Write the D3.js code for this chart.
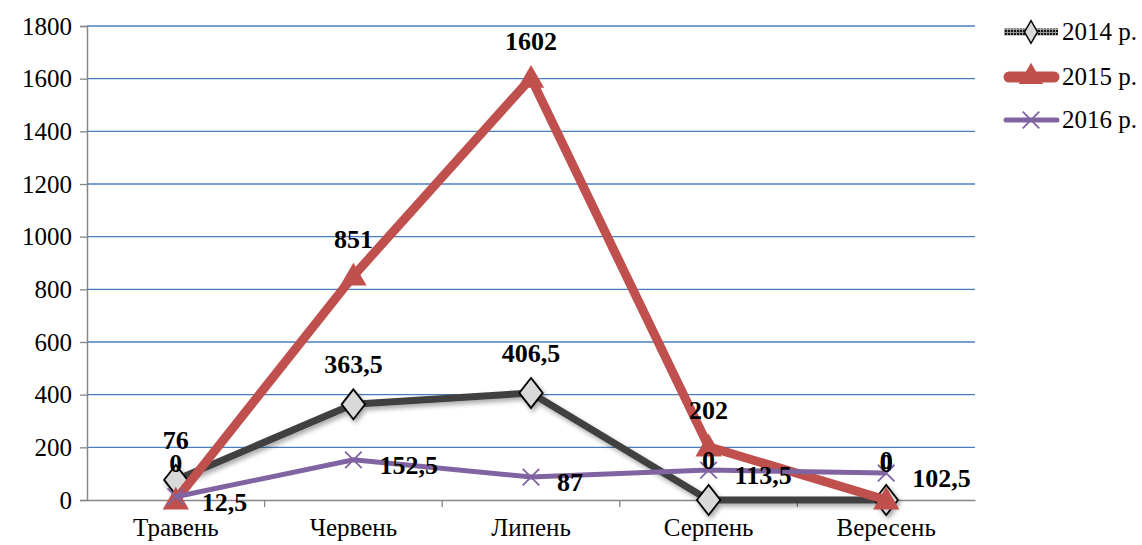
<!DOCTYPE html>
<html><head><meta charset="utf-8">
<script src="https://cdn.jsdelivr.net/npm/d3@7"></script>
<style>html,body{margin:0;padding:0;background:#fff;}svg{display:block;} svg text{font-family:"Liberation Serif","Times New Roman",serif;}</style>
</head><body>
<svg id="c" width="1142" height="545"></svg>
<script>
const categories = ["Травень","Червень","Липень","Серпень","Вересень"];
const series2014 = [76, 363.5, 406.5, 0, 0];
const series2015 = [0, 851, 1602, 202, 0];
const series2016 = [12.5, 152.5, 87, 113.5, 102.5];
const seriesNames = ["2014 р.","2015 р.","2016 р."];
const yTicks = [0,200,400,600,800,1000,1200,1400,1600,1800];
const fmt = v => String(v).replace(".", ",");

const svg = d3.select("#c");
const x = d3.scaleBand().domain(categories).range([87, 975]);
const y = d3.scaleLinear().domain([0, 1800]).range([500, 26]);
const cx = c => x(c) + x.bandwidth()/2;

const defs = svg.append("defs");
const f = defs.append("filter").attr("id","sh").attr("x","-20%").attr("y","-20%").attr("width","140%").attr("height","140%");
f.append("feGaussianBlur").attr("in","SourceAlpha").attr("stdDeviation",2.5);
f.append("feOffset").attr("dx",2).attr("dy",3).attr("result","b");
const ct = f.append("feComponentTransfer"); ct.append("feFuncA").attr("type","linear").attr("slope",0.35);
const fm = f.append("feMerge"); fm.append("feMergeNode"); fm.append("feMergeNode").attr("in","SourceGraphic");
const pat = defs.append("pattern").attr("id","hatch").attr("width",3).attr("height",3).attr("patternUnits","userSpaceOnUse");
pat.append("rect").attr("width",3).attr("height",3).attr("fill","#9a9a9a");
pat.append("rect").attr("width",2).attr("height",2).attr("fill","#111");

// gridlines
svg.append("g").selectAll("line").data(yTicks.filter(t=>t>0)).join("line")
  .attr("x1",87).attr("x2",975).attr("y1",d=>y(d)).attr("y2",d=>y(d))
  .attr("stroke","#4a7ebb").attr("stroke-width",1.3);

// y axis
const ya = svg.append("g").attr("transform","translate(87,0)")
  .call(d3.axisLeft(y).tickValues(yTicks).tickFormat(d=>String(d)).tickSize(7).tickPadding(8));
ya.attr("font-family",null);
ya.select(".domain").attr("stroke","#868686").attr("stroke-width",1.5);
ya.selectAll(".tick line").attr("stroke","#868686").attr("stroke-width",1.3);
ya.selectAll("text").attr("font-size",25).attr("fill","#000");

// x axis
const xa = svg.append("g").attr("transform","translate(0,500)").call(d3.axisBottom(x).tickSize(0).tickPadding(18));
xa.attr("font-family",null);
xa.select(".domain").attr("stroke","#868686").attr("stroke-width",1.5);
xa.selectAll("text").attr("font-size",25).attr("fill","#000");
svg.append("g").selectAll("line").data(categories.slice(1)).join("line")
  .attr("x1",d=>x(d)).attr("x2",d=>x(d)).attr("y1",500).attr("y2",507)
  .attr("stroke","#868686").attr("stroke-width",1.3);

const line = d3.line().x((d,i)=>cx(categories[i])).y(d=>y(d));

// 2014
const g14 = svg.append("g").attr("filter","url(#sh)");
g14.append("path").datum(series2014).attr("d",line).attr("fill","none").attr("stroke","#3f3f3f").attr("stroke-width",7).attr("stroke-linejoin","round");
const diamond = d3.symbol().type(d3.symbolDiamond).size(260);
g14.selectAll("path.m").data(series2014).join("path").attr("class","m")
  .attr("d",diamond).attr("transform",(d,i)=>`translate(${cx(categories[i])},${y(d)}) scale(1.35,1)`)
  .attr("fill","#d9d9d9").attr("stroke","#000").attr("stroke-width",1.5);

// 2015
const g15 = svg.append("g");
g15.append("path").datum(series2015).attr("d",line).attr("fill","none").attr("stroke","#c0504d").attr("stroke-width",9).attr("stroke-linejoin","miter");
const tri = d3.symbol().type(d3.symbolTriangle).size(300);
g15.selectAll("path.m").data(series2015).join("path").attr("class","m")
  .attr("d",tri).attr("transform",(d,i)=>`translate(${cx(categories[i])},${y(d)+2})`)
  .attr("fill","#c0504d");

// 2016
const g16 = svg.append("g");
g16.append("path").datum(series2016).attr("d",line).attr("fill","none").attr("stroke","#8064a2").attr("stroke-width",5);
const cross = d3.symbol().type(d3.symbolX).size(180);
g16.selectAll("path.m").data(series2016).join("path").attr("class","m")
  .attr("d",cross).attr("transform",(d,i)=>`translate(${cx(categories[i])},${y(d)})`)
  .attr("fill","none").attr("stroke","#8064a2").attr("stroke-width",1.8);

// data labels
const lab = svg.append("g").attr("font-weight","bold").attr("font-size",26).attr("fill","#000");
lab.selectAll("text.a").data(series2014).join("text").attr("class","a")
  .attr("x",(d,i)=>cx(categories[i])).attr("y",d=>y(d)-31).attr("text-anchor","middle").text(fmt);
lab.selectAll("text.b").data(series2015).join("text").attr("class","b")
  .attr("x",(d,i)=>cx(categories[i])).attr("y",d=>y(d)-28).attr("text-anchor","middle").text(fmt);
lab.selectAll("text.c").data(series2016).join("text").attr("class","c")
  .attr("x",(d,i)=>cx(categories[i])+26).attr("y",d=>y(d)+14).attr("text-anchor","start").text(fmt);

// legend
const leg = svg.append("g");
const ly = [32, 77, 120];
leg.append("rect").attr("x",1004).attr("y",ly[0]-3.5).attr("width",54).attr("height",7).attr("fill","url(#hatch)");
leg.append("path").attr("d",diamond).attr("transform",`translate(1031,${ly[0]}) scale(0.75,0.75)`).attr("fill","#d9d9d9").attr("stroke","#000").attr("stroke-width",2);
leg.append("line").attr("x1",1009).attr("x2",1054).attr("y1",ly[1]).attr("y2",ly[1]).attr("stroke","#c0504d").attr("stroke-width",11).attr("stroke-linecap","round");
leg.append("path").attr("d",d3.symbol().type(d3.symbolTriangle).size(260)).attr("transform",`translate(1031,${ly[1]})`).attr("fill","#c0504d");
leg.append("line").attr("x1",1006).attr("x2",1057).attr("y1",ly[2]).attr("y2",ly[2]).attr("stroke","#8064a2").attr("stroke-width",5).attr("stroke-linecap","round");
leg.append("path").attr("d",cross).attr("transform",`translate(1031,${ly[2]})`).attr("fill","none").attr("stroke","#8064a2").attr("stroke-width",1.8);
leg.selectAll("text").data(seriesNames).join("text").attr("x",1062).attr("y",(d,i)=>ly[i]+8)
  .attr("font-size",25).attr("fill","#000").text(d=>d);
</script>
</body></html>
